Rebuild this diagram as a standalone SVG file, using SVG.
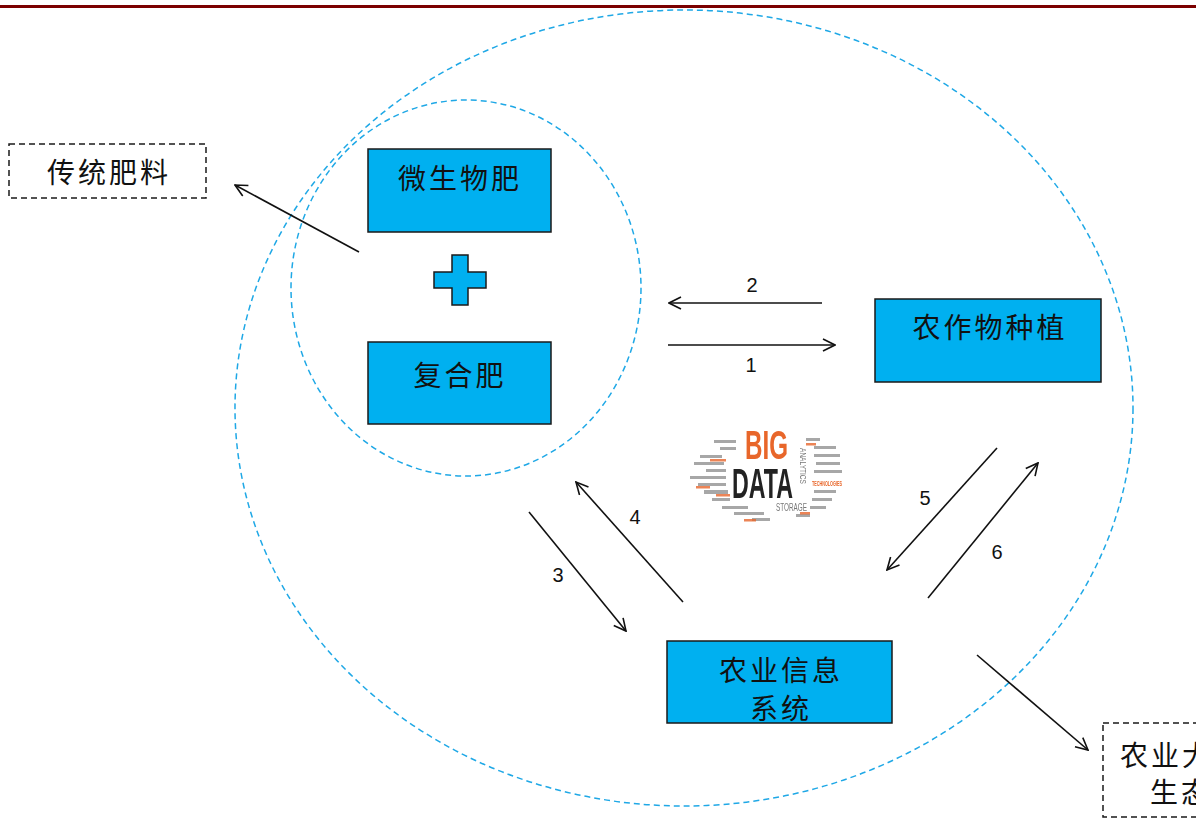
<svg xmlns="http://www.w3.org/2000/svg" width="1196" height="818" viewBox="0 0 1196 818">
  <style>
    .box { fill: #00B0F0; stroke: #1a1a1a; stroke-width: 1.5; }
    .note { fill: #ffffff; stroke: #1a1a1a; stroke-width: 1.5; stroke-dasharray: 6 4; }
    .ring { fill: none; stroke: #1FA8E6; stroke-width: 1.5; stroke-dasharray: 6 4; }
    .cjk { font-family: "Noto Sans CJK SC", "Noto Sans", sans-serif; font-size: 28px; fill: #111; letter-spacing: 3px; }
    .num { font-family: "Liberation Sans", Arial, sans-serif; font-size: 20px; fill: #111; text-anchor: middle; }
    .link { stroke: #111; stroke-width: 1.6; fill: none; marker-end: url(#open); }
  </style>
  <defs>
    <marker id="open" viewBox="0 0 14 14" refX="13" refY="7" markerWidth="14" markerHeight="14" markerUnits="userSpaceOnUse" orient="auto">
      <path d="M1 1 L13 7 L1 13" fill="none" stroke="#111" stroke-width="1.6"/>
    </marker>
    <filter id="soft" x="-10%" y="-10%" width="120%" height="120%">
      <feGaussianBlur stdDeviation="0.6"/>
    </filter>
  </defs>

  <rect width="1196" height="818" fill="#ffffff"/>
  <!-- header rule -->
  <rect x="0" y="5" width="1196" height="3" fill="#7B0000"/>

  <!-- system boundaries -->
  <g id="boundaries">
    <ellipse class="ring" cx="684" cy="408" rx="449" ry="398"/>
    <ellipse class="ring" cx="466" cy="288" rx="175" ry="188"/>
  </g>

  <g id="node-microbial">
    <rect class="box" x="368" y="149" width="183" height="83"/>
    <text class="cjk" x="460" y="189" text-anchor="middle">微生物肥</text>
  </g>

  <g id="plus">
    <path d="M452 255 H468 V272 H486 V288 H468 V305 H452 V288 H434 V272 H452 Z" fill="#00B0F0" stroke="#1a1a1a" stroke-width="1.5"/>
  </g>

  <g id="node-compound">
    <rect class="box" x="368" y="342" width="183" height="82"/>
    <text class="cjk" x="460" y="386" text-anchor="middle">复合肥</text>
  </g>

  <g id="node-crop">
    <rect class="box" x="875" y="299" width="226" height="83"/>
    <text class="cjk" x="990" y="338" text-anchor="middle">农作物种植</text>
  </g>

  <g id="node-info">
    <rect class="box" x="667" y="641" width="225" height="82"/>
    <text class="cjk" x="781" y="681" text-anchor="middle">农业信息</text>
    <text class="cjk" x="781" y="719" text-anchor="middle">系统</text>
  </g>

  <g id="node-traditional">
    <rect class="note" x="9" y="144" width="197" height="54"/>
    <text class="cjk" x="109" y="183" text-anchor="middle">传统肥料</text>
  </g>

  <!-- this box runs past the right edge of the page -->
  <g id="node-bigdata-eco">
    <rect class="note" x="1103" y="723" width="160" height="94"/>
    <text class="cjk" x="1120" y="766">农业大数据</text>
    <text class="cjk" x="1150" y="803">生态圈</text>
  </g>

  <!-- big data word cloud -->
  <g id="bigdata" filter="url(#soft)">
    <g fill="#8a8a8a" opacity="0.75">
      <rect x="700" y="455" width="22" height="3"/>
      <rect x="694" y="462" width="30" height="3"/>
      <rect x="706" y="469" width="20" height="3"/>
      <rect x="690" y="476" width="36" height="3"/>
      <rect x="698" y="483" width="28" height="3"/>
      <rect x="704" y="490" width="24" height="4"/>
      <rect x="712" y="498" width="18" height="3"/>
      <rect x="714" y="440" width="22" height="3"/>
      <rect x="720" y="447" width="16" height="3"/>
      <rect x="722" y="506" width="26" height="3"/>
      <rect x="734" y="512" width="30" height="3"/>
      <rect x="752" y="518" width="18" height="3"/>
      <rect x="806" y="438" width="14" height="3"/>
      <rect x="814" y="446" width="22" height="3"/>
      <rect x="814" y="454" width="26" height="3"/>
      <rect x="816" y="462" width="24" height="3"/>
      <rect x="814" y="470" width="28" height="3"/>
      <rect x="814" y="490" width="22" height="3"/>
      <rect x="812" y="498" width="20" height="3"/>
      <rect x="810" y="506" width="16" height="3"/>
      <rect x="796" y="514" width="14" height="3"/>
    </g>
    <g fill="#E8662A" opacity="0.8">
      <rect x="710" y="459" width="16" height="2.5"/>
      <rect x="696" y="486" width="14" height="2.5"/>
      <rect x="716" y="494" width="14" height="2.5"/>
      <rect x="744" y="519" width="12" height="2.5"/>
      <rect x="806" y="443" width="10" height="2.5"/>
      <rect x="800" y="512" width="10" height="2.5"/>
    </g>
    <text x="745" y="459" font-family="Liberation Sans, Arial, sans-serif" font-weight="bold" font-size="40" fill="#E8662A" textLength="43" lengthAdjust="spacingAndGlyphs">BIG</text>
    <text x="732" y="498" font-family="Liberation Sans, Arial, sans-serif" font-weight="bold" font-size="43" fill="#222" textLength="61" lengthAdjust="spacingAndGlyphs">DATA</text>
    <text x="776" y="511" font-family="Liberation Sans, Arial, sans-serif" font-size="10" fill="#777" textLength="31" lengthAdjust="spacingAndGlyphs">STORAGE</text>
    <text transform="translate(800 448) rotate(90)" font-family="Liberation Sans, Arial, sans-serif" font-size="9" fill="#777" textLength="36" lengthAdjust="spacingAndGlyphs">ANALYTICS</text>
    <text x="812" y="486" font-family="Liberation Sans, Arial, sans-serif" font-weight="bold" font-size="7" fill="#E8662A" textLength="30" lengthAdjust="spacingAndGlyphs">TECHNOLOGIES</text>
  </g>

  <!-- connectors -->
  <g id="connectors">
    <line class="link" x1="359" y1="252" x2="235" y2="185"/>
    <line class="link" x1="822" y1="303" x2="669" y2="303"/>
    <line class="link" x1="668" y1="345" x2="835" y2="345"/>
    <line class="link" x1="529" y1="512" x2="626" y2="631"/>
    <line class="link" x1="683" y1="602" x2="576" y2="482"/>
    <line class="link" x1="997" y1="448" x2="887" y2="570"/>
    <line class="link" x1="928" y1="598" x2="1038" y2="463"/>
    <line class="link" x1="977" y1="655" x2="1088" y2="750"/>
    <text class="num" x="752" y="292">2</text>
    <text class="num" x="751" y="372">1</text>
    <text class="num" x="558" y="582">3</text>
    <text class="num" x="635" y="524">4</text>
    <text class="num" x="925" y="505">5</text>
    <text class="num" x="997" y="559">6</text>
  </g>
</svg>
